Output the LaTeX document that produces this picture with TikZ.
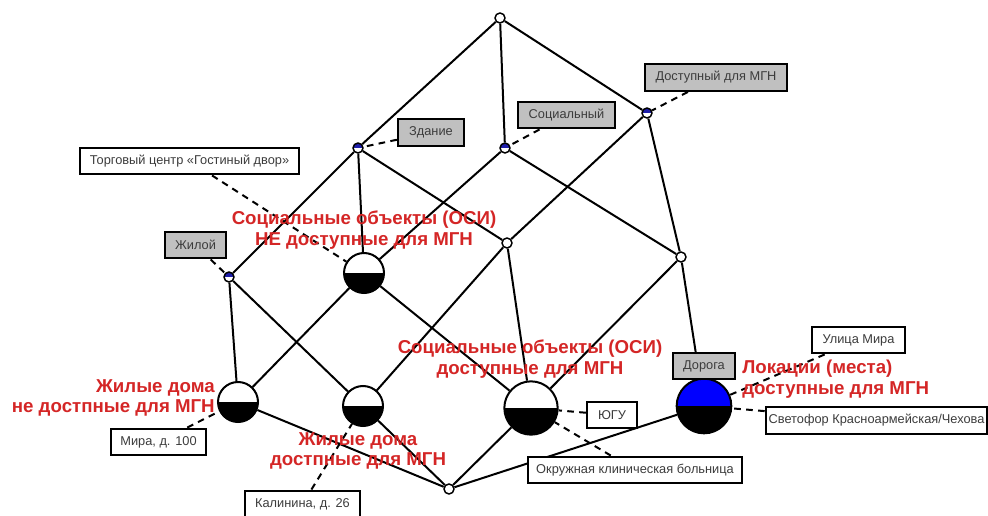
\documentclass[tikz,border=0pt]{standalone}
\usepackage{fontspec}
\setmainfont{Liberation Sans}
\definecolor{lblred}{RGB}{212,38,38}
\definecolor{attrblue}{RGB}{30,30,170}
\definecolor{boxgray}{RGB}{192,192,192}
\definecolor{boxtext}{RGB}{60,60,60}
\tikzset{
  edge/.style={line width=1.5pt, black},
  dashlink/.style={line width=1.5pt, black, dash pattern=on 5pt off 4pt},
  smallnode/.style={circle, draw, line width=1.1pt, fill=white, inner sep=0pt, minimum size=7.5pt},
  attrnode/.style={smallnode, path picture={\fill[attrblue] (path picture bounding box.north west) rectangle (path picture bounding box.east);}},
  halfnode/.style={circle, draw, line width=1.5pt, fill=white, inner sep=0pt, minimum size=#1,
    path picture={\fill[black] (path picture bounding box.west) rectangle (path picture bounding box.south east);}},
  bluehalf/.style={halfnode=#1, fill=blue},
  objbox/.style={draw, line width=1.7pt, fill=white, text=boxtext, font=\fontsize{9.6}{11}\selectfont, minimum height=20pt, inner sep=0pt, minimum width=#1},
  attrbox/.style={objbox=#1, fill=boxgray},
  redlbl/.style={text=lblred, font=\fontsize{14}{15.5}\selectfont\bfseries, inner sep=0pt}
}
\begin{document}
\begin{tikzpicture}[x=0.75pt,y=-0.75pt]
\useasboundingbox (0,0) rectangle (988,516);
% lattice nodes
\node[smallnode] (top) at (500,18) {};
\node[attrnode] (zd) at (358,148) {};
\node[attrnode] (soc) at (505,148) {};
\node[attrnode] (dost) at (647,113) {};
\node[attrnode] (zhil) at (229,277) {};
\node[smallnode] (mid) at (507,243) {};
\node[smallnode] (rmid) at (681,257) {};
\node[halfnode=30pt] (sne) at (364,273) {};
\node[halfnode=30pt] (zhne) at (238,402) {};
\node[halfnode=30pt] (zhd) at (363,406) {};
\node[halfnode=40pt] (sd) at (531,408) {};
\node[bluehalf=41pt] (lok) at (704,406) {};
\node[smallnode] (bot) at (449,489) {};
% edges
\draw[edge] (top) -- (zd);
\draw[edge] (top) -- (soc);
\draw[edge] (top) -- (dost);
\draw[edge] (zd) -- (zhil);
\draw[edge] (zd) -- (sne);
\draw[edge] (zd) -- (mid);
\draw[edge] (soc) -- (sne);
\draw[edge] (soc) -- (rmid);
\draw[edge] (dost) -- (mid);
\draw[edge] (dost) -- (rmid);
\draw[edge] (zhil) -- (zhne);
\draw[edge] (zhil) -- (zhd);
\draw[edge] (sne) -- (zhne);
\draw[edge] (sne) -- (sd);
\draw[edge] (mid) -- (zhd);
\draw[edge] (mid) -- (sd);
\draw[edge] (rmid) -- (sd);
\draw[edge] (rmid) -- (lok);
\draw[edge] (zhne) -- (bot);
\draw[edge] (zhd) -- (bot);
\draw[edge] (sd) -- (bot);
\draw[edge] (lok) -- (bot);
% label boxes
\node[objbox=164pt] (tc) at (189.5,161) {Торговый центр «Гостиный двор»};
\node[attrbox=49.5pt] (bzd) at (431,132.5) {Здание};
\node[attrbox=73pt] (bsoc) at (566.5,115) {Социальный};
\node[attrbox=106.5pt] (bdost) at (716,77.5) {Доступный для МГН};
\node[attrbox=46pt] (bzhil) at (195.5,245) {Жилой};
\node[objbox=71pt] (mira) at (158.5,442) {Мира, д. 100};
\node[objbox=86pt] (kal) at (302.5,504) {Калинина, д. 26};
\node[objbox=37.5pt] (yugu) at (612,415) {ЮГУ};
\node[objbox=160.5pt] (okb) at (635,470) {Окружная клиническая больница};
\node[objbox=70pt] (ulm) at (858.5,340) {Улица Мира};
\node[objbox=166pt] (svet) at (876.5,420.5) {Светофор Красноармейская/Чехова};
\node[attrbox=46.5pt] (dor) at (704,366) {Дорога};
% dashed links
\draw[dashlink] (tc) -- (sne);
\draw[dashlink] (bzd) -- (zd);
\draw[dashlink] (bsoc) -- (soc);
\draw[dashlink] (bdost) -- (dost);
\draw[dashlink] (bzhil) -- (zhil);
\draw[dashlink] (mira) -- (zhne);
\draw[dashlink] (kal) -- (zhd);
\draw[dashlink] (yugu) -- (sd);
\draw[dashlink] (okb) -- (sd);
\draw[dashlink] (ulm) -- (lok);
\draw[dashlink] (svet) -- (lok);
% red labels
\node[redlbl, align=center] (lsne) at (364,230) {Социальные объекты (ОСИ)\\НЕ доступные для МГН};
\node[redlbl, align=right, anchor=east] (lzhne) at (215,398) {Жилые дома\\не достпные для МГН};
\node[redlbl, align=center] (lzhd) at (358,451) {Жилые дома\\достпные для МГН};
\node[redlbl, align=center] (lsd) at (530,359) {Социальные объекты (ОСИ)\\доступные для МГН};
\node[redlbl, align=left, anchor=west] (llok) at (742,379) {Локации (места)\\доступные для МГН};
\end{tikzpicture}
\end{document}
